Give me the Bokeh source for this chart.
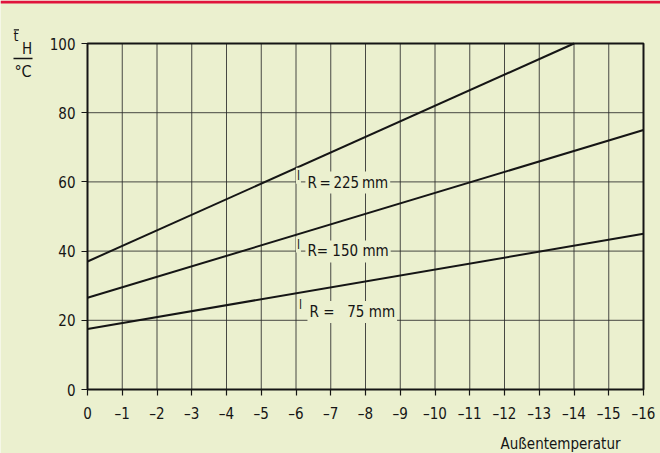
from bokeh.plotting import figure
from bokeh.models import Range1d, FixedTicker, Label, BoxAnnotation
from bokeh.embed import file_html
from bokeh.resources import INLINE

# Außentemperatur (°C) and mean heating-water temperature for three pipe lengths
temps_225 = [0, -14]
theta_225 = [37, 100]
temps_150 = [0, -16]
theta_150 = [26.5, 75]
temps_75 = [0, -16]
theta_75 = [17.5, 45]

series_labels = ["R\u2009=\u2009225\u2009mm", "R= 150 mm", "R =\u00a0\u00a0\u00a075 mm"]
series_label_pos = [(-6.27, 59.8), (-6.27, 39.9), (-6.33, 22.4)]

x_ticks = list(range(0, -17, -1))
x_tick_labels = ["0"] + ["\u2013" + str(abs(t)) for t in x_ticks[1:]]
y_ticks = [0, 20, 40, 60, 80, 100]
y_tick_labels = ["0", "20", "40", "60", "80", "100"]

BG = "#EBF0CF"
INK = "#151515"
GRID = "#2a2a2a"
RED = "#E0143C"
FONT = "DejaVu Sans Condensed"

W, H = 660, 453
# page layout: chart box starts 87 px from the left, zero line 389 px from the top
UX, UY = 34.75, 3.46
BOX_LEFT, BOX_ZERO = 87, 389


def px2x(xp):
    return (BOX_LEFT - xp) / UX


def py2y(yp):
    return (BOX_ZERO - yp) / UY


p = figure(width=W, height=H, output_backend="svg", toolbar_location=None,
           x_range=Range1d(px2x(0), px2x(W)), y_range=Range1d(py2y(H), py2y(0)),
           min_border=0, min_border_left=0, min_border_right=0,
           min_border_top=0, min_border_bottom=0)
p.background_fill_color = BG
p.border_fill_color = BG
p.outline_line_color = None
p.xgrid.visible = False
p.ygrid.visible = False

# red rule across the top of the page
p.add_layout(BoxAnnotation(left=px2x(0), right=px2x(W), top=py2y(0), bottom=py2y(3),
                           fill_color=RED, fill_alpha=1, line_color=None))

x_lo, x_hi = x_ticks[0], x_ticks[-1]
y_lo, y_hi = y_ticks[0], y_ticks[-1]

# grid: every degree vertically, every 20 °C horizontally
p.segment(x0=x_ticks, y0=[y_lo] * len(x_ticks), x1=x_ticks, y1=[y_hi] * len(x_ticks),
          line_color=GRID, line_width=1, line_alpha=0.85)
p.segment(x0=[x_lo] * len(y_ticks), y0=y_ticks, x1=[x_hi] * len(y_ticks), y1=y_ticks,
          line_color=GRID, line_width=1, line_alpha=0.85)
# frame of the chart
p.quad(left=[x_lo], right=[x_hi], bottom=[y_lo], top=[y_hi],
       fill_color=None, line_color=INK, line_width=2)

p.xaxis.ticker = FixedTicker(ticks=x_ticks)
p.xaxis.major_label_overrides = {t: s for t, s in zip(x_ticks, x_tick_labels)}
p.yaxis.ticker = FixedTicker(ticks=y_ticks)
p.yaxis.major_label_overrides = {t: s for t, s in zip(y_ticks, y_tick_labels)}
p.xaxis.fixed_location = y_lo
p.yaxis.fixed_location = x_lo
for ax in (p.xaxis, p.yaxis):
    ax.axis_line_color = None
    ax.minor_tick_line_color = None
    ax.major_tick_in = 0
    ax.major_tick_line_color = INK
    ax.major_tick_line_width = 1.2
    ax.major_label_text_font = FONT
    ax.major_label_text_font_size = "15px"
    ax.major_label_text_color = INK
p.xaxis.major_tick_out = 6
p.xaxis.major_label_standoff = 9
p.yaxis.major_tick_out = 6
p.yaxis.major_label_standoff = 6

for xs, ys in ((temps_225, theta_225), (temps_150, theta_150), (temps_75, theta_75)):
    p.line(xs, ys, line_color=INK, line_width=2)

# curve labels: "l" followed by subscript "R = ... mm"
for text, (lx, ly) in zip(series_labels, series_label_pos):
    p.add_layout(Label(x=lx, y=ly, text=text, text_font=FONT, text_font_size="15px",
                       text_color=INK, text_baseline="middle", text_align="left",
                       background_fill_color=BG, padding=2))
    p.add_layout(Label(x=lx + 0.2, y=ly + 2.0, text="l", text_font=FONT,
                       text_font_size="12px", text_color=INK,
                       text_baseline="middle", text_align="center",
                       background_fill_color=BG, padding=1))

# quantity of the y axis: t̄_H over °C
p.add_layout(Label(x=px2x(15.5), y=py2y(35.5), text="t", text_font=FONT,
                   text_font_size="14px", text_color=INK,
                   text_baseline="middle", text_align="center"))
p.add_layout(BoxAnnotation(left=px2x(13.3), right=px2x(18.5), top=py2y(28.7), bottom=py2y(30.0),
                           fill_color=INK, fill_alpha=1, line_color=None))
p.add_layout(Label(x=px2x(26.5), y=py2y(48.5), text="H", text_font=FONT,
                   text_font_size="15px", text_color=INK,
                   text_baseline="middle", text_align="center"))
p.add_layout(BoxAnnotation(left=px2x(13), right=px2x(32), top=py2y(57.3), bottom=py2y(58.8),
                           fill_color=INK, fill_alpha=1, line_color=None))
p.add_layout(Label(x=px2x(22.5), y=py2y(71), text="\u00b0C", text_font=FONT,
                   text_font_size="16px", text_color=INK,
                   text_baseline="middle", text_align="center"))

# quantity of the x axis, right-aligned under the scale
p.add_layout(Label(x=px2x(620), y=py2y(443.5), text="Außentemperatur", text_font=FONT,
                   text_font_size="15px", text_color=INK,
                   text_baseline="middle", text_align="right"))

open("out.html", "w").write(file_html(p, INLINE))
